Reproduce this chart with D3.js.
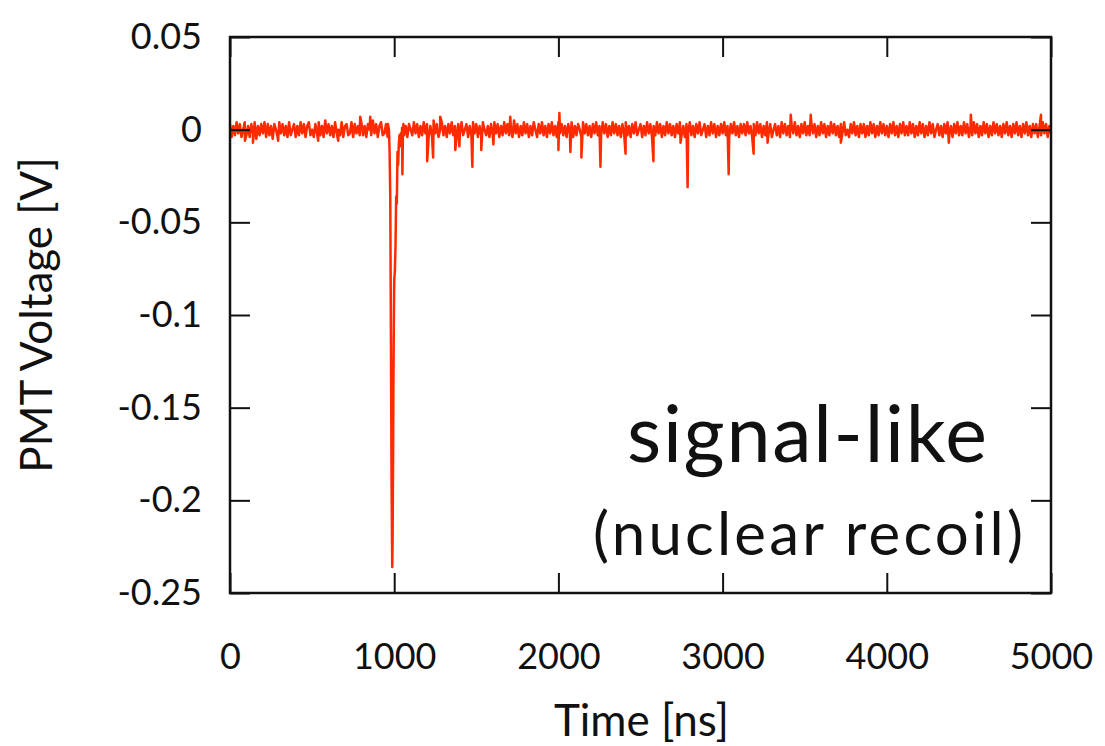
<!DOCTYPE html>
<html>
<head>
<meta charset="utf-8">
<script src="https://cdn.jsdelivr.net/npm/d3@7"></script>
<style>
  html, body { margin: 0; padding: 0; background: #fff; }
  svg { display: block; }
  text { font-family: Lato, "Open Sans", sans-serif; fill: #111; }
</style>
</head>
<body>
<svg id="chart" width="1105" height="746"></svg>
<script>
// ---------------- data ----------------
// baseline samples in mV, one every 10 ns from 0 to 5000 ns
const sampleStepNs = 10;
const baselineMv = [
  3,-4,2,-3,4,-2,3,-4,0,4,-3,2,-4,3,-2,4,-5,2,-3,3,
  -2,4,-4,3,-3,2,-5,3,0,-4,4,-2,3,-3,2,-4,4,-3,0,3,
  -4,2,-3,4,-2,3,-4,2,4,-3,0,-4,3,-2,4,-3,2,-4,5,-2,
  3,-3,2,-4,4,-2,0,-3,4,-4,2,3,-3,-2,4,-4,3,-2,2,-3,
  4,-3,2,-4,3,0,-3,5,-2,3,-4,2,4,-3,-2,3,-4,2,-3,4,
  -3,2,-4,3,-2,4,-3,2,-4,3,0,-3,4,-2,3,-4,2,-3,4,-2,
  3,-4,2,-3,5,-2,3,-4,0,4,-3,2,-4,3,-2,4,-3,2,-4,3,
  -2,4,-3,0,3,-4,2,-3,4,-2,3,-4,2,-3,4,0,-3,2,-4,3,
  -3,4,-2,3,-4,2,-3,4,-2,3,-3,2,-4,5,-2,3,-4,2,-3,4,
  -2,3,-4,2,-3,4,0,-4,3,-2,4,-3,2,-4,3,-2,4,-3,2,-4,
  4,-2,3,-3,2,-4,3,-2,4,-4,2,-3,3,0,-4,4,-2,3,-3,2,
  -4,3,-2,4,-3,2,-3,4,-2,3,-4,2,-3,4,-2,3,-3,2,-4,3,
  -2,4,-3,2,-4,3,-2,4,-3,0,3,-4,2,-3,4,-2,3,-4,2,-3,
  4,-2,3,-4,2,-3,4,-2,3,-3,2,-4,3,-2,4,-3,2,-4,3,-2,
  4,-3,2,-4,3,-2,4,-3,0,3,-4,2,-3,4,-2,3,-4,2,-3,3,
  -2,4,-3,2,-4,3,-2,4,-3,2,-4,3,-2,3,-3,4,-2,2,-4,3,
  -3,4,-2,3,-4,2,-3,4,-2,3,-4,0,3,-3,2,-4,4,-2,3,-3,
  2,-4,3,-2,4,-3,2,-4,3,-2,4,-3,2,-3,4,-2,3,-4,2,-3,
  4,-2,3,-4,2,-3,4,-2,3,-3,2,-4,3,-2,4,-3,0,-4,3,-2,
  4,-3,2,-4,3,-2,3,-4,2,-3,4,-2,3,-4,2,-3,4,-2,3,-3,
  2,-4,3,-2,4,-3,2,-4,3,-2,4,-3,2,-3,4,-2,3,-4,2,-3,
  4,-2,3,-4,2,-3,4,-2,3,-4,0,3,-3,2,-4,3,-2,4,-3,2,
  -4,3,-2,4,-3,2,-3,4,-2,3,-4,2,-3,4,-2,3,-4,2,-3,4,
  -2,3,-4,2,-3,4,-2,3,-3,2,-4,3,-2,4,-3,2,-4,3,-2,4,
  -3,2,-4,3,-2,4,-3,2,-4,3,-2,3,-4,2,-3,4,-2,3,-4,2,
  -2
];
// main scintillation pulse (ns, mV)
const pulseTimeNs = [962, 968, 972, 976, 980, 984, 988, 990, 993, 995, 998, 1000, 1004, 1008, 1012, 1016, 1020, 1024, 1028, 1032, 1036, 1040, 1044, 1048, 1050, 1053, 1056];
const pulseMv     = [3, 0, -12, -36, -110, -190, -236, -224, -180, -141, -100, -82, -76, -63, -36, -40, -12, -19, -8, -3, -9, -2, -6, 1, -24, -3, 3];
// single-photoelectron spikes (ns, mV)
const spikeTimeNs = [91, 140, 293, 537, 659, 793, 854, 1201, 1237, 1280, 1372, 1397, 1476, 1530, 1604, 1707, 2000, 2006, 2073, 2140, 2256, 2409, 2579, 2744, 2787, 3037, 3189, 3274, 3415, 3537, 3720, 4378, 4512, 4939];
const spikeMv     = [-6, -7, -6, -6, -6, 7, 7, -17, -15, 7, -11, -9, -20, -11, -8, 7, -11, 9, -12, -15, -20, -13, -17, -7, -31, -24, -13, -7, 8, 8, -7, -7, 8, 8];

const xTicks = [0, 1000, 2000, 3000, 4000, 5000];
const yTicks = [0.05, 0, -0.05, -0.1, -0.15, -0.2, -0.25];
const yTickLabels = ["0.05", "0", "-0.05", "-0.1", "-0.15", "-0.2", "-0.25"];
const xTitle = "Time [ns]";
const yTitle = "PMT Voltage [V]";
const noteMain = "signal-like";
const noteSub = "(nuclear recoil)";

// ---------------- build series ----------------
const pulseStart = pulseTimeNs[0], pulseEnd = pulseTimeNs[pulseTimeNs.length - 1];
let pts = [];
baselineMv.forEach((v, i) => {
  const t = i * sampleStepNs;
  if (t < pulseStart || t > pulseEnd) pts.push({t, v: v / 1000});
});
pulseTimeNs.forEach((t, i) => pts.push({t, v: pulseMv[i] / 1000}));
spikeTimeNs.forEach((t, i) => pts.push({t, v: spikeMv[i] / 1000}));
pts.sort((a, b) => a.t - b.t);

// ---------------- layout ----------------
const svg = d3.select("#chart");
const L = 230, R = 1051, T = 37, B = 593;
const x = d3.scaleLinear().domain([0, 5000]).range([L, R]);
const y = d3.scaleLinear().domain([-0.25, 0.05]).range([B, T]);
const tickLen = 20;

// data line
svg.append("path")
  .datum(pts)
  .attr("fill", "none")
  .attr("stroke", "#ff2a00")
  .attr("stroke-width", 2.5)
  .attr("stroke-linejoin", "round")
  .attr("d", d3.line().x(d => x(d.t)).y(d => y(d.v)));

// axes
const yFmt = d => yTickLabels[yTicks.indexOf(d)];
const gl = svg.append("g").attr("transform", `translate(${L},0)`)
  .call(d3.axisLeft(y).tickValues(yTicks).tickFormat(yFmt).tickSizeInner(-tickLen).tickSizeOuter(0).tickPadding(28));
const gr = svg.append("g").attr("transform", `translate(${R},0)`)
  .call(d3.axisRight(y).tickValues(yTicks).tickFormat("").tickSizeInner(-tickLen).tickSizeOuter(0));
const gb = svg.append("g").attr("transform", `translate(0,${B})`)
  .call(d3.axisBottom(x).tickValues(xTicks).tickFormat(d3.format("d")).tickSizeInner(-tickLen).tickSizeOuter(0).tickPadding(50));
const gt = svg.append("g").attr("transform", `translate(0,${T})`)
  .call(d3.axisTop(x).tickValues(xTicks).tickFormat("").tickSizeInner(-tickLen).tickSizeOuter(0));

[gl, gr, gb, gt].forEach(g => {
  g.select(".domain").remove();
  g.selectAll(".tick line").attr("stroke", "#111").attr("stroke-width", 2);
  g.selectAll(".tick text").attr("font-size", 36).attr("font-family", "Lato, sans-serif").attr("fill", "#111");
});

// frame
svg.append("rect")
  .attr("x", L).attr("y", T).attr("width", R - L).attr("height", B - T)
  .attr("fill", "none").attr("stroke", "#111").attr("stroke-width", 2.5);

// axis titles
svg.append("text")
  .attr("x", (L + R) / 2 + 1).attr("y", 736)
  .attr("text-anchor", "middle").attr("font-size", 44)
  .text(xTitle);
svg.append("text")
  .attr("transform", `translate(52,315) rotate(-90)`)
  .attr("text-anchor", "middle").attr("font-size", 44)
  .text(yTitle);

// annotation
svg.append("text")
  .attr("x", 807).attr("y", 462)
  .attr("text-anchor", "middle").attr("font-size", 79).attr("font-weight", 400)
  .attr("textLength", 360).attr("lengthAdjust", "spacing")
  .text(noteMain);
svg.append("text")
  .attr("x", 808).attr("y", 555)
  .attr("text-anchor", "middle").attr("font-size", 60).attr("font-weight", 400)
  .attr("textLength", 430).attr("lengthAdjust", "spacing")
  .text(noteSub);
</script>
</body>
</html>
